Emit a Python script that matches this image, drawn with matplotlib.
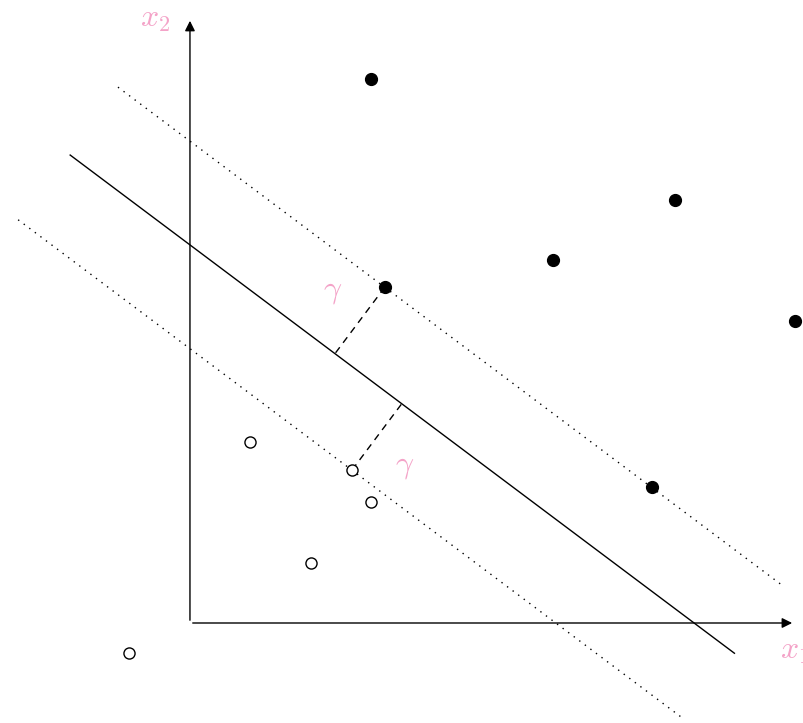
import matplotlib.pyplot as plt
import numpy as np

plt.rcParams['mathtext.fontset'] = 'cm'

# data (1 unit ~ 60.5 px in the reference)
pos_x = [2.99, 8.02, 6.0, 3.22, 10.0, 7.64]
pos_y = [9.0, 7.0, 6.0, 5.55, 5.0, 2.25]
neg_x = [1.0, 2.68, 3.0, 2.0, -1.0]
neg_y = [3.0, 2.53, 2.0, 1.0, -0.5]

slope = -0.75
c_mid, c_up, c_low = 6.25, 7.965, 4.535

pink = '#f4a3c8'

fig = plt.figure(figsize=(8.04, 7.23), dpi=100)
ax = fig.add_axes([0, 0, 1, 1])
ax.set_xlim(-3.14, 10.15)
ax.set_ylim(-1.653, 10.298)
ax.axis('off')

# axes arrows
ax.annotate('', xy=(10.0, 0), xytext=(0, 0),
            arrowprops=dict(arrowstyle='-|>', color='black', lw=1, mutation_scale=15))
ax.annotate('', xy=(0, 10.0), xytext=(0, 0),
            arrowprops=dict(arrowstyle='-|>', color='black', lw=1, mutation_scale=15))
ax.text(9.76, -0.45, '$x_1$', color=pink, fontsize=23, ha='left', va='center')
ax.text(-0.58, 10.0, '$x_2$', color=pink, fontsize=23, ha='center', va='center')

# separating hyperplane and margins
xs = np.array([-1.98, 9.0])
ax.plot(xs, slope*xs + c_mid, color='black', lw=1)
xs = np.array([-1.19, 9.8])
ax.plot(xs, slope*xs + c_up, color='black', lw=1, ls=(0, (1, 4)))
xs = np.array([-2.84, 8.15])
ax.plot(xs, slope*xs + c_low, color='black', lw=1, ls=(0, (1, 4)))

# margin distances
d = (c_up - c_mid) * 0.8
sv_up = (3.22, 5.55)
sv_low = (2.68, 2.53)
ax.plot([sv_up[0], sv_up[0] - 0.6*d], [sv_up[1], sv_up[1] - 0.8*d],
        color='black', lw=1, ls=(0, (5, 4)))
ax.plot([sv_low[0], sv_low[0] + 0.6*d], [sv_low[1], sv_low[1] + 0.8*d],
        color='black', lw=1, ls=(0, (5, 4)))
ax.text(2.35, 5.5, r'$\gamma$', color=pink, fontsize=23, ha='center', va='center')
ax.text(3.55, 2.6, r'$\gamma$', color=pink, fontsize=23, ha='center', va='center')

# points
ax.plot(pos_x, pos_y, 'o', color='black', markersize=8.5, zorder=5)
ax.plot(neg_x, neg_y, 'o', markerfacecolor='white', markeredgecolor='black',
        markersize=8, markeredgewidth=1, zorder=5)

fig.savefig('out.png', dpi=100)
